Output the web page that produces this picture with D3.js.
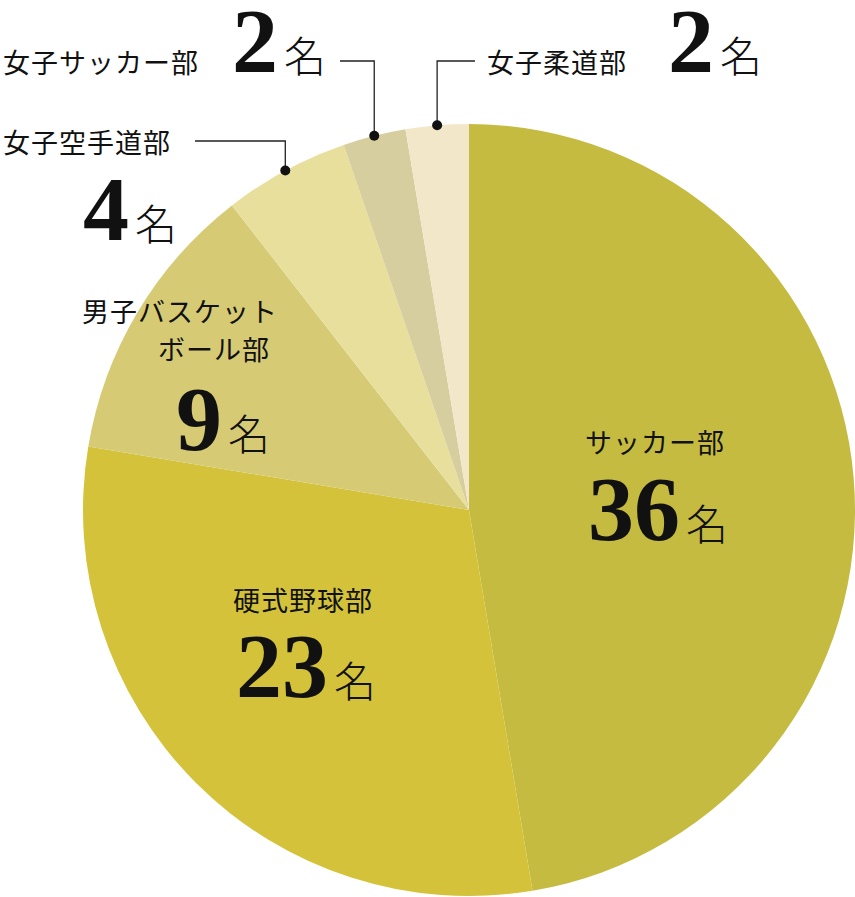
<!DOCTYPE html>
<html>
<head>
<meta charset="utf-8">
<script src="https://cdn.jsdelivr.net/npm/d3@7"></script>
<style>
  body { margin: 0; background: #fff; }
  svg { display: block; }
  .lbl { font-family: "Noto Sans CJK JP", sans-serif; font-size: 27px; fill: #111; letter-spacing: 1px; }
  .num { font-family: "Liberation Serif", serif; font-weight: bold; font-size: 92px; fill: #111; }
  .unit { font-family: "Noto Sans CJK JP", sans-serif; font-weight: 300; font-size: 42px; fill: #111; }
</style>
</head>
<body>
<svg width="855" height="897"></svg>
<script>
// data
const clubs = ["サッカー部", "硬式野球部", "男子バスケットボール部", "女子空手道部", "女子サッカー部", "女子柔道部"]
const members = [36, 23, 9, 4, 2, 2]
const unit = "名"
const colors = ["#c4bb40", "#d4c33a", "#d6cb74", "#e8df9d", "#d6ce9f", "#f2e7c8"]

// label layout: text lines, number position, optional leader line
const layout = [
  { lines: [[585, 453, "start", "サッカー部"]], num: [588, 540] },
  { lines: [[233, 611, "start", "硬式野球部"]], num: [236, 697] },
  { lines: [[82, 322, "start", "男子バスケット"], [270, 360, "end", "ボール部"]], num: [176, 450] },
  { lines: [[3, 153, "start", "女子空手道部"]], num: [83, 240], leader: [141, 195] },
  { lines: [[3, 73, "start", "女子サッカー部"]], num: [232, 72], leader: [61, 340] },
  { lines: [[487, 73, "start", "女子柔道部"]], num: [668, 72], leader: [61, 475] }
]

const cx = 469, cy = 510, radius = 386

const svg = d3.select('svg')
const g = svg.append('g').attr('transform', `translate(${cx},${cy})`)

const pie = d3.pie().sort(null).value(d => d)
const arcs = pie(members)

const arc = d3.arc().innerRadius(0).outerRadius(radius)

g.selectAll('path')
  .data(arcs)
  .enter().append('path')
  .attr('d', arc)
  .attr('fill', (d, i) => colors[i])

// leader lines for the small slices
arcs.forEach((d, i) => {
  const l = layout[i].leader
  if (!l) return
  const a = (d.startAngle + d.endAngle) / 2
  const px = cx + radius * Math.sin(a)
  const py = cy - radius * Math.cos(a)
  svg.append('path')
    .attr('d', `M${px},${py}V${l[0]}H${l[1]}`)
    .attr('fill', 'none')
    .attr('stroke', '#222')
    .attr('stroke-width', 1.3)
  svg.append('circle')
    .attr('cx', px).attr('cy', py).attr('r', 5)
    .attr('fill', '#111')
})

// labels
layout.forEach((L, i) => {
  L.lines.forEach(t => {
    svg.append('text')
      .attr('class', 'lbl')
      .attr('x', t[0]).attr('y', t[1])
      .attr('text-anchor', t[2])
      .text(t[3])
  })
  const txt = svg.append('text')
    .attr('x', L.num[0]).attr('y', L.num[1])
  txt.append('tspan').attr('class', 'num').text(members[i])
  txt.append('tspan').attr('class', 'unit').attr('dx', 6).text(unit)
})
</script>
</body>
</html>
